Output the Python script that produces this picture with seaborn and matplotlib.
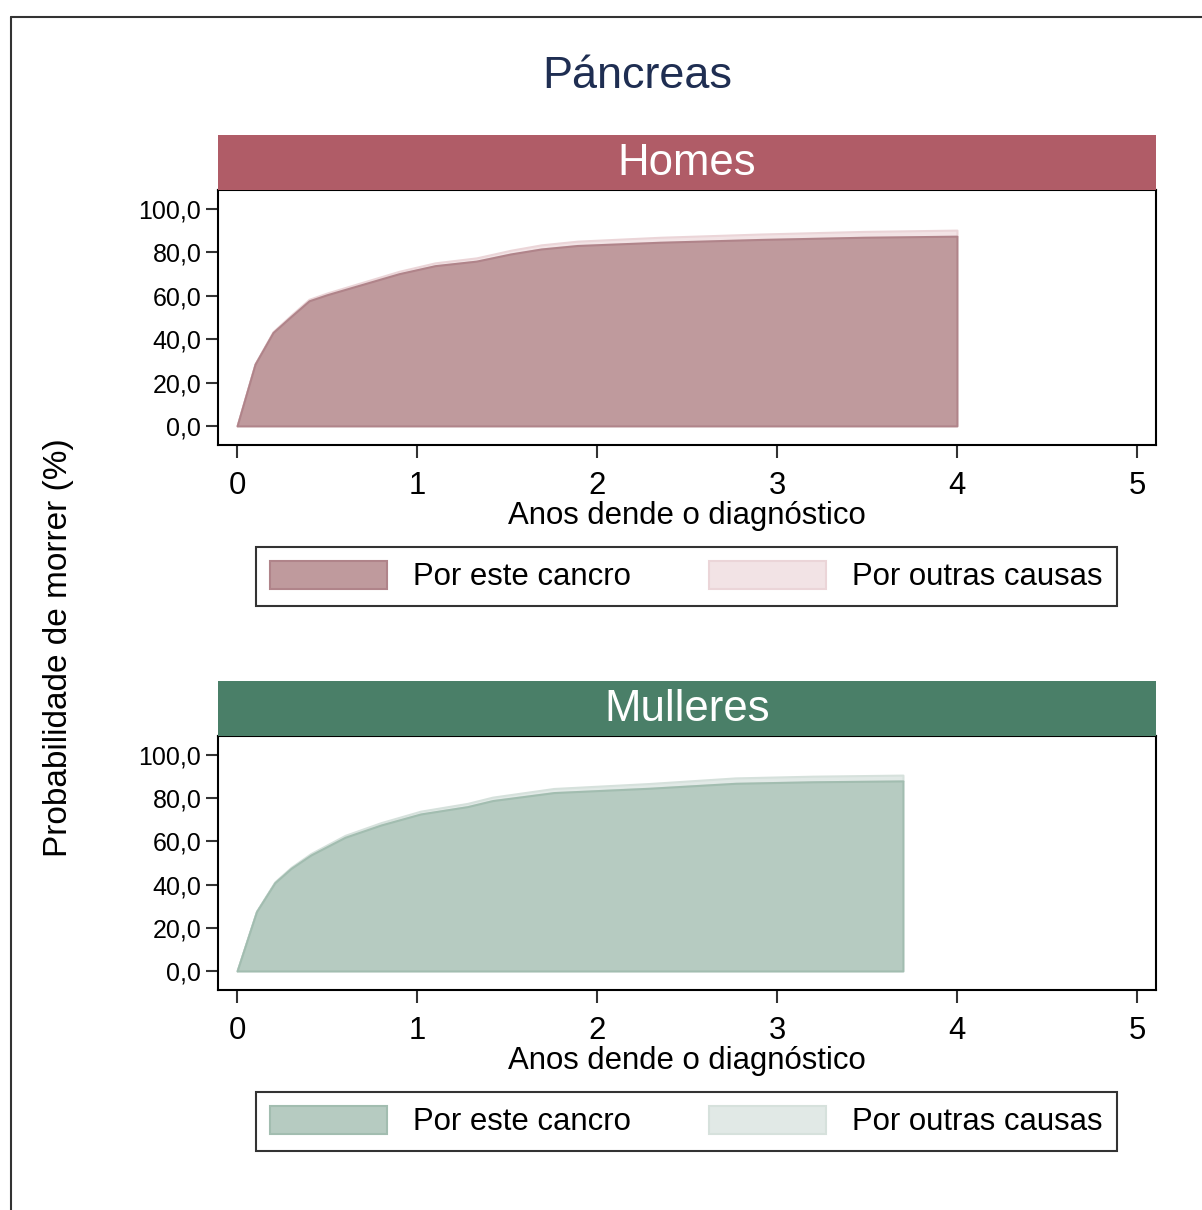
import matplotlib
matplotlib.use("Agg")
import matplotlib.pyplot as plt
import seaborn as sns
from matplotlib.lines import Line2D
from matplotlib.patches import Patch

sns.set_theme(style="white")
plt.rcParams['font.family'] = ['Liberation Sans', 'DejaVu Sans']
plt.rcParams['text.color'] = 'black'
plt.rcParams['xtick.color'] = 'black'
plt.rcParams['ytick.color'] = 'black'

# Homes (men)
homes_anos = [0, 0.10, 0.20, 0.30, 0.40, 0.50, 0.64, 0.90, 1.10, 1.33, 1.52, 1.69, 1.89, 2.35, 2.91, 3.48, 4.0]
homes_cancro = [0, 28.5, 43.1, 50.5, 57.7, 60.5, 63.9, 70.2, 73.9, 76.0, 79.3, 81.6, 83.2, 84.7, 86.0, 87.0, 87.5]
homes_outras = [0, 0.2, 0.4, 0.6, 0.7, 0.8, 0.9, 1.1, 1.3, 1.5, 1.7, 1.9, 2.0, 2.3, 2.5, 2.7, 2.8]

# Mulleres (women)
mulleres_anos = [0, 0.108, 0.21, 0.30, 0.41, 0.60, 0.80, 1.02, 1.28, 1.42, 1.76, 2.29, 2.77, 3.20, 3.70]
mulleres_cancro = [0, 27.5, 40.9, 47.5, 53.7, 61.9, 67.6, 72.7, 76.1, 78.9, 82.6, 84.6, 86.9, 87.6, 88.0]
mulleres_outras = [0, 0.2, 0.4, 0.5, 0.7, 0.9, 1.1, 1.3, 1.5, 1.6, 1.9, 2.2, 2.5, 2.6, 2.7]

xticks = [0, 1, 2, 3, 4, 5]
yticks = [0, 20, 40, 60, 80, 100]
ytick_labels = ['0,0', '20,0', '40,0', '60,0', '80,0', '100,0']

panels = [
    dict(nome='Homes', anos=homes_anos, cancro=homes_cancro, outras=homes_outras,
         header='#B05C67', fill='#BF9A9D', edge='#B0848A', fill2='#F2E3E5', edge2='#EBD5D8',
         ax_rect=[218, 190, 1156, 445], head_rect=[218, 135, 1156, 190], leg_rect=[256, 548, 1117, 605]),
    dict(nome='Mulleres', anos=mulleres_anos, cancro=mulleres_cancro, outras=mulleres_outras,
         header='#4A7F68', fill='#B6CBC1', edge='#A2BDB0', fill2='#E1E9E6', edge2='#D6E1DC',
         ax_rect=[218, 736, 1156, 990], head_rect=[218, 681, 1156, 736], leg_rect=[256, 1093, 1117, 1150]),
]

W, H = 1202, 1210
fig = plt.figure(figsize=(W / 100, H / 100), dpi=100)


def frac(r):
    x0, y0, x1, y1 = r
    return [x0 / W, 1 - y1 / H, (x1 - x0) / W, (y1 - y0) / H]


for p in panels:
    ax = fig.add_axes(frac(p['ax_rect']))
    top = [c + o for c, o in zip(p['cancro'], p['outras'])]
    ax.fill_between(p['anos'], p['cancro'], top, facecolor=p['fill2'], edgecolor=p['edge2'], linewidth=1.5)
    ax.fill_between(p['anos'], 0, p['cancro'], facecolor=p['fill'], edgecolor=p['edge'], linewidth=1.5)
    ax.set_xlim(-0.106, 5.106)
    ax.set_ylim(-8.8, 108.8)
    ax.set_xticks(xticks)
    ax.set_xticklabels([str(x) for x in xticks])
    ax.set_yticks(yticks)
    ax.set_yticklabels(ytick_labels)
    ax.tick_params(axis='both', which='both', direction='out', length=9, width=1.5, color='#333333',
                   bottom=True, left=True, labelcolor='black')
    ax.tick_params(axis='x', labelsize=22.4, pad=10)
    ax.tick_params(axis='y', labelsize=18, pad=3)
    ax.set_xlabel('Anos dende o diagnóstico', fontsize=22.4, labelpad=0, color='black')
    for s in ax.spines.values():
        s.set_color('black')
        s.set_linewidth(1.5)
    ax.grid(False)

    hax = fig.add_axes(frac(p['head_rect']))
    hax.set_facecolor(p['header'])
    hax.set_xticks([])
    hax.set_yticks([])
    for s in hax.spines.values():
        s.set_visible(False)
    hax.text(0.5, 0.48, p['nome'], color='white', fontsize=31.5, ha='center', va='center',
             transform=hax.transAxes)

    handles = [Patch(facecolor=p['fill'], edgecolor=p['edge'], linewidth=1.5, label='Por este cancro'),
               Patch(facecolor=p['fill2'], edgecolor=p['edge2'], linewidth=1.5, label='Por outras causas')]
    lx, ly, lw, lh = frac(p['leg_rect'])
    leg = fig.legend(handles=handles, loc='center', bbox_to_anchor=(lx + lw / 2, ly + lh / 2),
                     ncol=2, fontsize=22.4, frameon=True, fancybox=False, shadow=False,
                     handlelength=3.77, handleheight=1.0, handletextpad=0.84, columnspacing=2.5,
                     borderpad=0.45, borderaxespad=0)
    leg.get_frame().set_edgecolor('black')
    leg.get_frame().set_linewidth(1.5)

fig.text(637 / W, 1 - 77 / H, 'Páncreas', fontsize=32.4, color='#1F2E52', ha='center', va='center')
fig.text(59 / W, 1 - 648 / H, 'Probabilidade de morrer (%)', fontsize=24, rotation=90,
         ha='center', va='center', color='black')

# outer frame
fig.add_artist(Line2D([11 / W, 11 / W], [0, 1 - 17 / H], color='#333333', linewidth=1.5))
fig.add_artist(Line2D([11 / W, 1], [1 - 17 / H, 1 - 17 / H], color='#333333', linewidth=1.5))

fig.savefig('out.png', dpi=100, facecolor='white')
